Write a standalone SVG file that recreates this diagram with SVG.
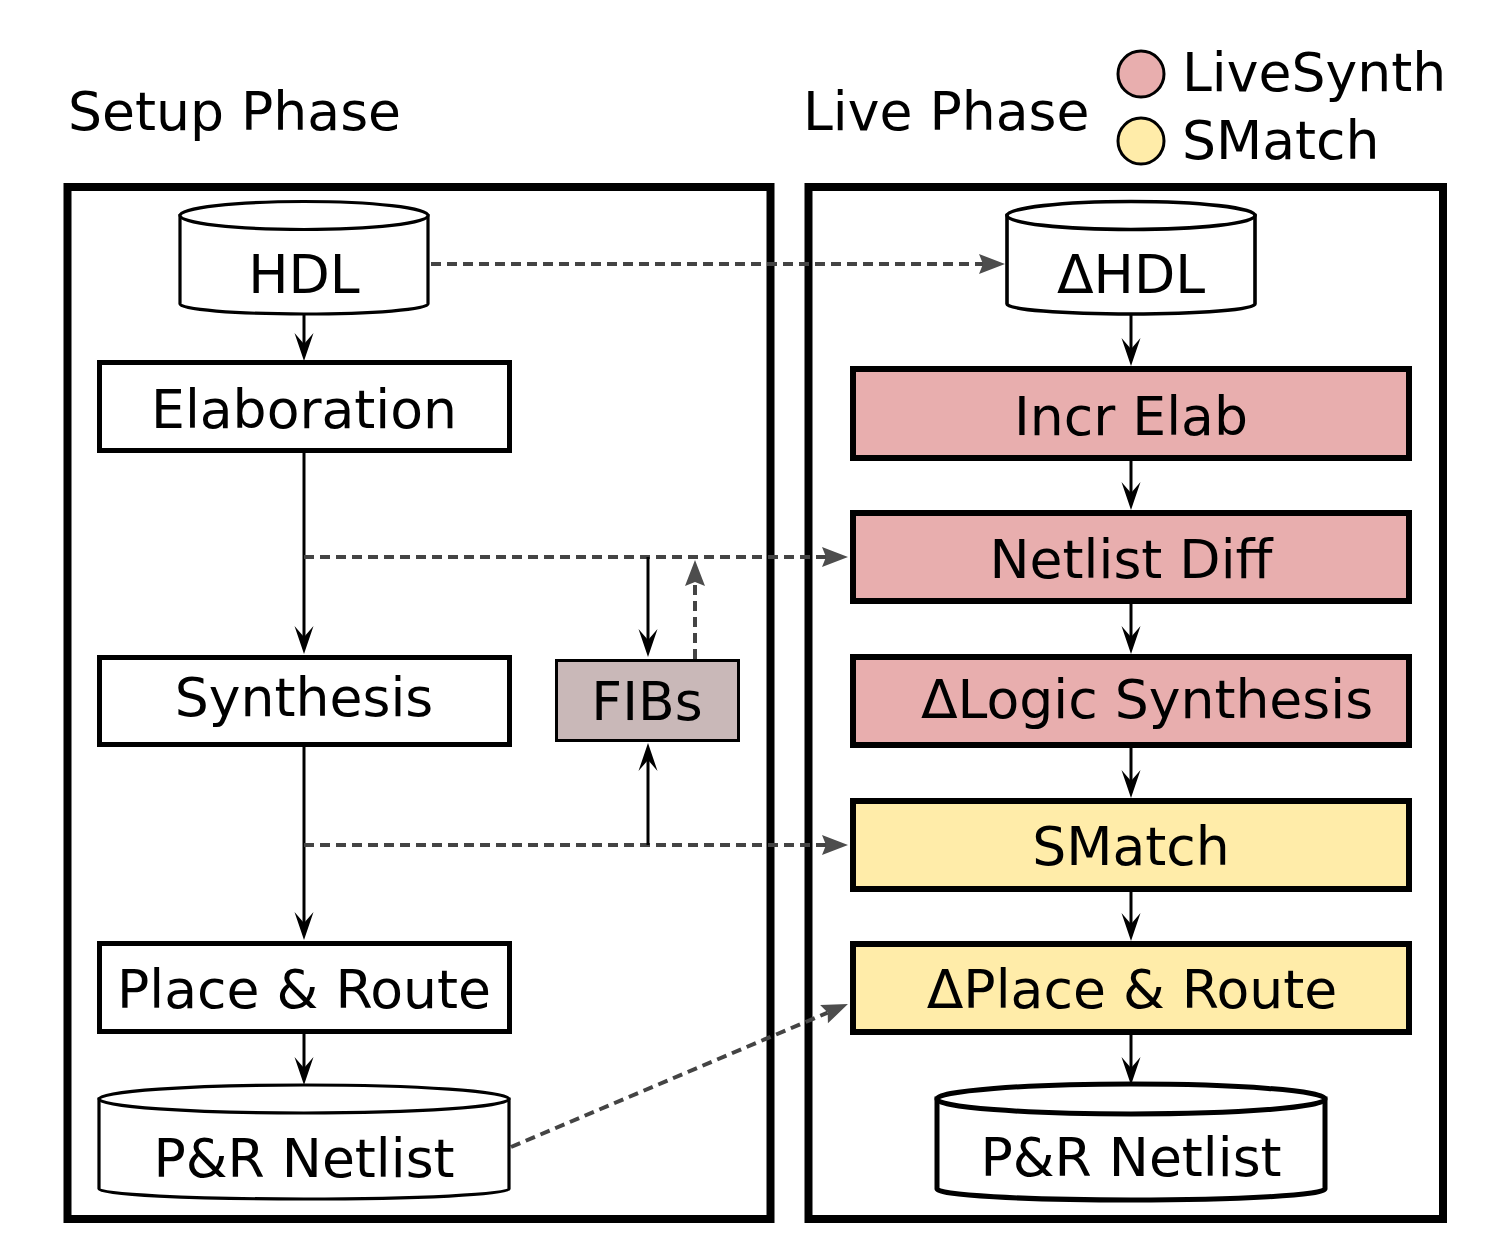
<svg xmlns="http://www.w3.org/2000/svg" width="1494" height="1260" viewBox="0 0 1494 1260">
<style>
text{font-family:"DejaVu Sans","Liberation Sans",sans-serif;font-size:53.6px;fill:#000}
.mid{text-anchor:middle}
.panel{fill:none;stroke:#000;stroke-width:8}
.lbox{fill:#fff;stroke:#000;stroke-width:5}
.live{fill:#e8aeae;stroke:#000;stroke-width:6}
.sm{fill:#ffeca9;stroke:#000;stroke-width:6}
.fib{fill:#c9b8b8;stroke:#000;stroke-width:3}
.cyl{fill:#fff;stroke:#000;stroke-width:3.2}
.solid{fill:none;stroke:#000;stroke-width:3}
.dash{fill:none;stroke:#444;stroke-width:4;stroke-dasharray:10,6}
</style>
<defs>
<marker id="ab" viewBox="-14 -11 34 22" refX="0" refY="0" markerWidth="34" markerHeight="22" markerUnits="userSpaceOnUse" orient="auto">
<path d="M17,0 L-11,-9.5 L0,0 L-11,9.5 Z" fill="#000"/>
</marker>
<marker id="ag" viewBox="-6 -11 30 22" refX="0" refY="0" markerWidth="30" markerHeight="22" markerUnits="userSpaceOnUse" orient="auto">
<path d="M22,0 L-4,-10 L0,0 L-4,10 Z" fill="#4d4d4d"/>
</marker>
</defs>

<text x="68" y="130">Setup Phase</text>
<text x="803" y="130">Live Phase</text>
<g id="legend">
<circle cx="1141" cy="74" r="23" fill="#e8aeae" stroke="#000" stroke-width="3"/>
<text x="1182" y="91">LiveSynth</text>
<circle cx="1141" cy="141" r="23" fill="#ffeca9" stroke="#000" stroke-width="3"/>
<text x="1182" y="159">SMatch</text>
</g>

<rect class="panel" x="67.5" y="187" width="703" height="1032"/>
<rect class="panel" x="808.5" y="187" width="634.5" height="1032"/>

<g id="connectors">
<line class="solid" x1="304" y1="315" x2="304" y2="344" marker-end="url(#ab)"/>
<line class="solid" x1="304" y1="453" x2="304" y2="637" marker-end="url(#ab)"/>
<line class="solid" x1="304" y1="747" x2="304" y2="923" marker-end="url(#ab)"/>
<line class="solid" x1="304" y1="1034" x2="304" y2="1068" marker-end="url(#ab)"/>
<line class="dash" x1="304" y1="557" x2="826" y2="557" marker-end="url(#ag)"/>
<line class="dash" x1="304" y1="845" x2="826" y2="845" marker-end="url(#ag)"/>
<line class="solid" x1="648" y1="557" x2="648" y2="640" marker-end="url(#ab)"/>
<line class="dash" x1="695" y1="659" x2="695" y2="582" marker-end="url(#ag)"/>
<line class="solid" x1="648" y1="845" x2="648" y2="760" marker-end="url(#ab)"/>
<line class="dash" x1="431" y1="264" x2="983" y2="264" marker-end="url(#ag)"/>
<line class="dash" x1="511" y1="1147" x2="827.7" y2="1012.6" marker-end="url(#ag)"/>
<line class="solid" x1="1131" y1="315" x2="1131" y2="349" marker-end="url(#ab)"/>
<line class="solid" x1="1131" y1="461" x2="1131" y2="493" marker-end="url(#ab)"/>
<line class="solid" x1="1131" y1="604" x2="1131" y2="637" marker-end="url(#ab)"/>
<line class="solid" x1="1131" y1="748" x2="1131" y2="781" marker-end="url(#ab)"/>
<line class="solid" x1="1131" y1="892" x2="1131" y2="924" marker-end="url(#ab)"/>
<line class="solid" x1="1131" y1="1035" x2="1131" y2="1068" marker-end="url(#ab)"/>
</g>

<g id="hdl">
<path class="cyl" d="M180,215.5 L180,304 A124,10 0 0 0 428,304 L428,215.5 Z"/>
<ellipse class="cyl" cx="304" cy="215.5" rx="124" ry="14"/>
<text class="mid" x="304" y="293">HDL</text>
</g>
<g id="elaboration">
<rect class="lbox" x="99.5" y="362.5" width="410" height="88"/>
<text class="mid" x="304" y="428">Elaboration</text>
</g>
<g id="synthesis">
<rect class="lbox" x="99.5" y="657.5" width="410" height="87"/>
<text class="mid" x="304" y="716">Synthesis</text>
</g>
<g id="fibs">
<rect class="fib" x="556.5" y="660.5" width="182" height="80"/>
<text class="mid" x="647" y="720">FIBs</text>
</g>
<g id="placeroute">
<rect class="lbox" x="99.5" y="943.5" width="410" height="88"/>
<text class="mid" x="304" y="1008">Place &amp; Route</text>
</g>
<g id="prnetlist-setup">
<path class="cyl" d="M99,1099 L99,1189 A205,10 0 0 0 509,1189 L509,1099 Z"/>
<ellipse class="cyl" cx="304" cy="1099" rx="205" ry="14"/>
<text class="mid" x="304" y="1177">P&amp;R Netlist</text>
</g>

<g id="dhdl">
<path class="cyl" style="stroke-width:3.6" d="M1007,215.5 L1007,304 A124,10 0 0 0 1255,304 L1255,215.5 Z"/>
<ellipse class="cyl" style="stroke-width:3.6" cx="1131" cy="215.5" rx="124" ry="14"/>
<text class="mid" x="1131" y="293">ΔHDL</text>
</g>
<g id="increlab">
<rect class="live" x="853" y="369" width="556" height="89"/>
<text class="mid" x="1131" y="435">Incr Elab</text>
</g>
<g id="netlistdiff">
<rect class="live" x="853" y="513" width="556" height="88"/>
<text class="mid" x="1131" y="578">Netlist Diff</text>
</g>
<g id="dlogicsynth">
<rect class="live" x="853" y="657" width="556" height="88"/>
<text class="mid" x="1147" y="718">ΔLogic Synthesis</text>
</g>
<g id="smatch">
<rect class="sm" x="853" y="801" width="556" height="88"/>
<text class="mid" x="1131" y="865">SMatch</text>
</g>
<g id="dplaceroute">
<rect class="sm" x="853" y="944" width="556" height="88"/>
<text class="mid" x="1132" y="1008">ΔPlace &amp; Route</text>
</g>
<g id="prnetlist-live">
<path class="cyl" style="stroke-width:5" d="M937,1099 L937,1189 A194,11 0 0 0 1325,1189 L1325,1099 Z"/>
<ellipse class="cyl" style="stroke-width:5" cx="1131" cy="1099" rx="194" ry="15"/>
<text class="mid" x="1131" y="1176">P&amp;R Netlist</text>
</g>
</svg>
